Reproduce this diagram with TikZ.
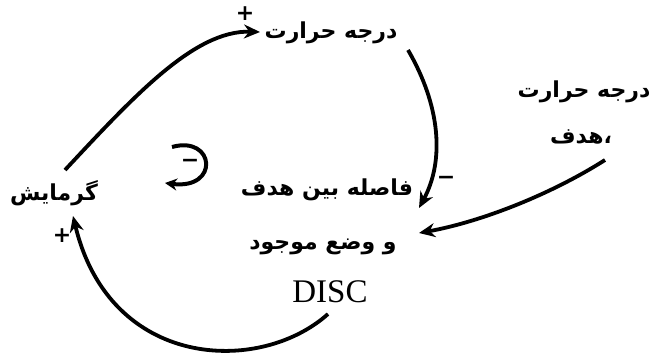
\documentclass[tikz,border=0pt]{standalone}
\usepackage{fontspec}
\setmainfont{Liberation Serif}
\newfontfamily\arabicfont[Script=Arabic]{DejaVu Sans}
\newfontfamily\signfont{DejaVu Sans}
\TeXXeTstate=1
\usetikzlibrary{arrows.meta}
\begin{document}
\begin{tikzpicture}[x=1pt,y=-1pt,
  ar/.style={font=\arabicfont\bfseries\fontsize{22}{24}\selectfont, inner sep=0pt},
  lat/.style={font=\fontsize{33}{35}\selectfont, inner sep=0pt},
  sign/.style={font=\signfont\bfseries\fontsize{22}{22}\selectfont, inner sep=0pt},
  link/.style={line width=3.8pt, -{Stealth[length=16pt,width=14pt]}},
  looplink/.style={line width=4pt, -{Stealth[length=12pt,width=12pt]}},
]
\useasboundingbox (0,0) rectangle (658,358);
% nodes
\node[ar] (g)  at (54,193)  {\beginR گرمایش\endR};
\node[ar] (t)  at (331,33)  {\beginR درجه حرارت\endR};
\node[ar] (h1) at (584,92)  {\beginR درجه حرارت\endR};
\node[ar] (h2) at (581,137) {\beginR ،هدف\endR};
\node[ar] (d1) at (327,190) {\beginR فاصله بین هدف\endR};
\node[ar] (d2) at (323,247) {\beginR و وضع موجود\endR};
\node[lat] (d3) at (330,292) {DISC};
% signs
\node[sign] (s1) at (245,14)  {+};
\node[sign] (s2) at (446,180) {−};
\node[sign] (s3) at (62,236)  {+};
\node[sign] (s4) at (190,163) {−};
% connector ends
\coordinate (gOut) at (65,170);
\coordinate (tIn)  at (260,32);
\coordinate (tOut) at (408,50);
\coordinate (dInA) at (419,208);
\coordinate (hOut) at (605,160);
\coordinate (dInB) at (419,233);
\coordinate (dOut) at (328,314);
\coordinate (gIn)  at (73,216);
\coordinate (lA)   at (172,147);
\coordinate (lB)   at (165,183);
% connectors
\draw[link] (gOut) .. controls (135,95) and (195,30) .. (tIn);
\draw[link] (tOut) .. controls (440,105) and (445,160) .. (dInA);
\draw[link] (hOut) .. controls (550,195) and (480,222) .. (dInB);
\draw[link] (dOut) .. controls (260,375) and (110,370) .. (gIn);
\draw[looplink] (lA) .. controls (215,135) and (220,190) .. (lB);
\end{tikzpicture}
\end{document}
